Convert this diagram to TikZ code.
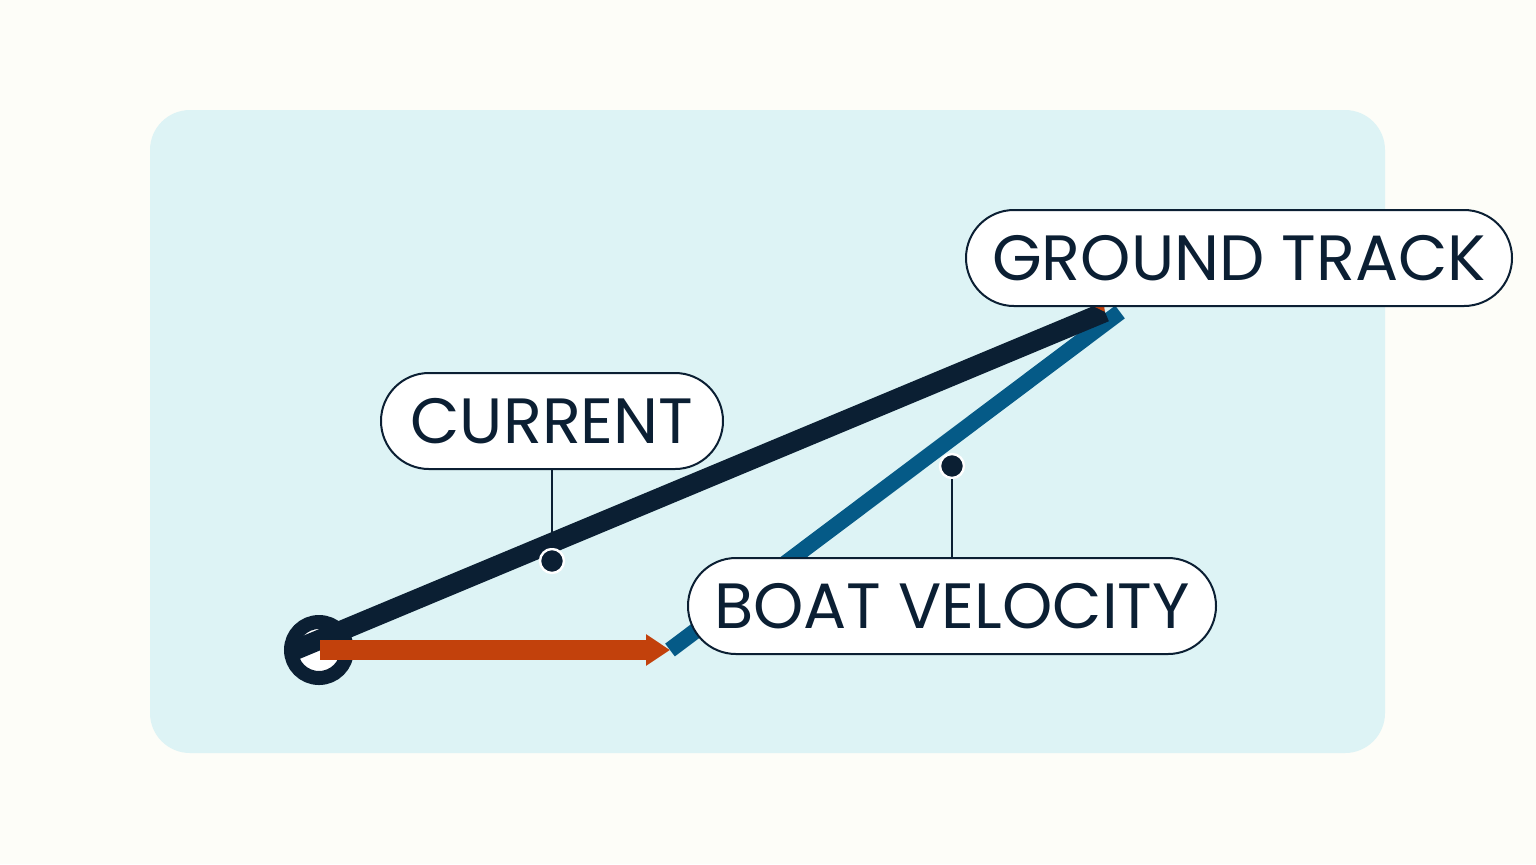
\documentclass[tikz,border=0pt]{standalone}
\usepackage{fontspec}
\setmainfont{Poppins}
\usetikzlibrary{arrows.meta}
\definecolor{paper}{HTML}{FDFDF8}
\definecolor{panel}{HTML}{DDF3F5}
\definecolor{ink}{HTML}{0B1F33}
\definecolor{rust}{HTML}{C2410C}
\definecolor{sea}{HTML}{055A87}
\begin{document}
\begin{tikzpicture}[x=0.5pt,y=-0.5pt,
    pill/.style={draw=ink,line width=1pt,fill=white,rounded corners=24pt,minimum height=48pt,text=ink,font=\fontsize{32}{32}\selectfont},
    dot/.style={circle,fill=ink,draw=white,line width=1.2pt,inner sep=0pt,minimum size=12pt}]
    \fill[paper] (0,0) rectangle (1536,864);
    \fill[panel,rounded corners=20pt] (150,110) rectangle (1385,753);

    \node[circle,draw=ink,line width=7pt,fill=white,minimum size=28pt] (o) at (319,650) {};
    \coordinate (s) at (295,650);
    \coordinate (sc) at (320,650);
    \coordinate (e) at (670,650);
    \coordinate (g) at (1105,312);
    \coordinate (gb) at (1120,312);

    \draw[sea,line width=8pt] (e) -- (gb);
    \draw[ink,line width=10pt] (s) -- (g);
    \draw[rust,line width=10pt,-{Triangle[length=12pt,width=15pt]}] (sc) -- (e);
    \draw[rust,line width=2pt,-{Triangle[length=8pt,width=8pt]}] (1100,305) -- (g);

    \node[dot] (dc) at (552,561) {};
    \node[dot] (db) at (952,466) {};

    \node[pill,minimum width=171pt] (cur) at (552,421) {CURRENT};
    \node[pill,minimum width=273pt] (gt) at (1239,258) {GROUND TRACK};
    \node[pill,minimum width=264pt] (bv) at (952,606) {BOAT VELOCITY};

    \draw[ink,line width=1pt] (cur) -- (dc);
    \draw[ink,line width=1pt] (bv) -- (db);
\end{tikzpicture}
\end{document}
